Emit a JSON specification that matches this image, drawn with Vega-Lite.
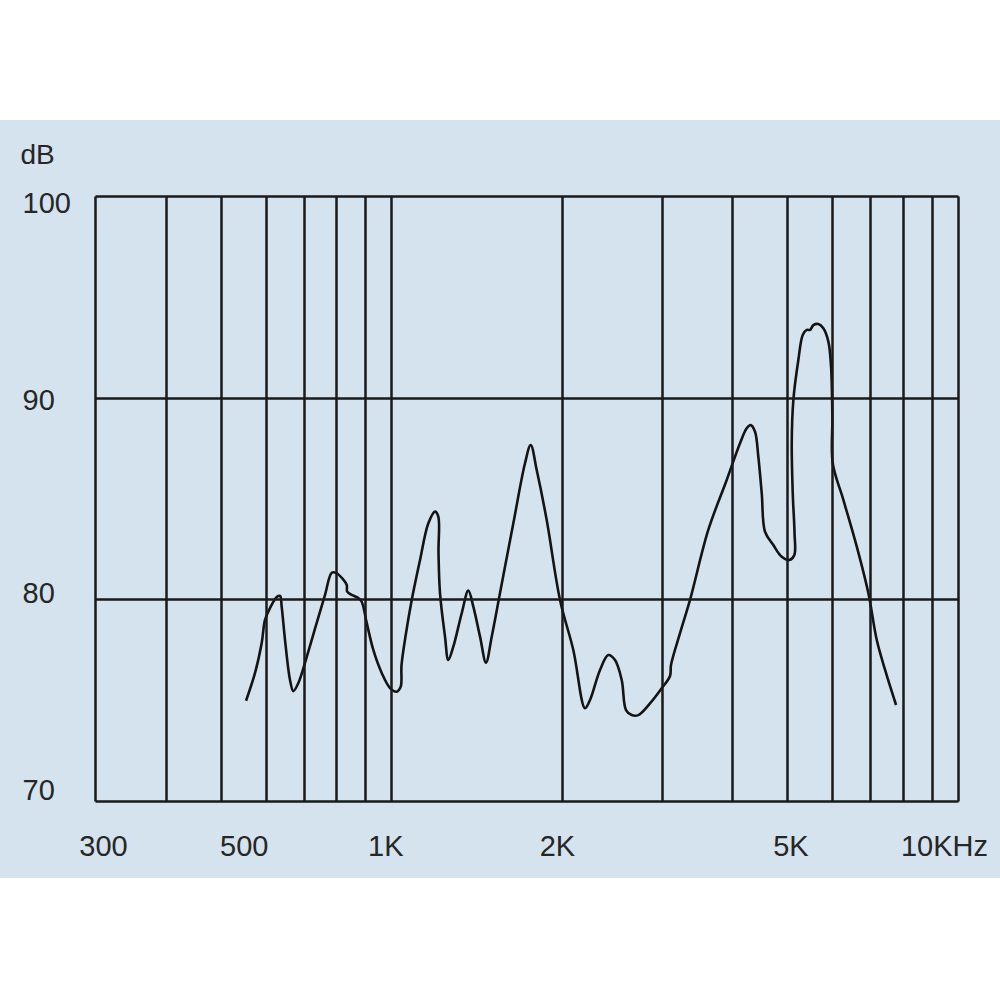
{
  "$schema": "https://vega.github.io/schema/vega-lite/v6.json",
  "width": 863,
  "height": 605,
  "autosize": {"type": "none"},
  "padding": {"left": 95, "top": 196, "right": 42, "bottom": 199},
  "background": "#ffffff",
  "config": {"view": {"stroke": null}},
  "layer": [
    {
      "data": {"values": [{}]},
      "mark": {"type": "rect", "color": "#d5e3ef", "clip": false},
      "encoding": {
        "x": {"datum": 150, "type": "quantitative", "scale": {"type": "log", "domain": [300, 10000], "nice": false}},
        "x2": {"datum": 15000},
        "y": {"datum": 103.77, "type": "quantitative", "scale": {"domain": [70, 100], "nice": false, "zero": false}},
        "y2": {"datum": 66.18}
      }
    },
    {
      "data": {"values": [
        {"i":1,"f":554.2,"db":74.97},{"i":2,"f":574.8,"db":76.35},{"i":3,"f":590.6,"db":77.84},{"i":4,"f":598.6,"db":78.98},
        {"i":5,"f":610.9,"db":79.57},{"i":6,"f":627.8,"db":80.12},{"i":7,"f":636.2,"db":80.17},{"i":8,"f":640.6,"db":79.62},
        {"i":9,"f":649.3,"db":77.98},{"i":10,"f":662.6,"db":76.0},{"i":11,"f":671.6,"db":75.45},{"i":12,"f":685.4,"db":75.85},
        {"i":13,"f":709.1,"db":77.14},{"i":14,"f":738.5,"db":78.83},{"i":15,"f":763.9,"db":80.22},{"i":16,"f":785.0,"db":81.32},
        {"i":17,"f":798.8,"db":81.31},{"i":18,"f":820.8,"db":81.01},{"i":19,"f":834.3,"db":80.71},{"i":20,"f":836,"db":80.38},
        {"i":21,"f":851.4,"db":80.22},{"i":22,"f":874.5,"db":80.07},{"i":23,"f":886.7,"db":79.88},{"i":24,"f":904.9,"db":78.83},
        {"i":25,"f":929.5,"db":77.49},{"i":26,"f":961.8,"db":76.35},{"i":27,"f":994.8,"db":75.6},{"i":28,"f":1022.3,"db":75.42},
        {"i":29,"f":1039.0,"db":75.67},{"i":30,"f":1042.4,"db":76.74},{"i":31,"f":1061.7,"db":78.33},{"i":32,"f":1086.5,"db":79.97},
        {"i":33,"f":1123.8,"db":81.95},{"i":34,"f":1162.4,"db":83.77},{"i":35,"f":1194.3,"db":84.35},{"i":36,"f":1210.4,"db":84.1},
        {"i":37,"f":1211.4,"db":82.3},{"i":38,"f":1218.8,"db":80.31},{"i":39,"f":1243.8,"db":78.15},{"i":40,"f":1260.6,"db":76.99},
        {"i":41,"f":1286.5,"db":77.65},{"i":42,"f":1331.2,"db":79.31},{"i":43,"f":1367.4,"db":80.43},{"i":44,"f":1395.5,"db":79.64},
        {"i":45,"f":1434.0,"db":78.15},{"i":46,"f":1469.3,"db":76.86},{"i":47,"f":1503.8,"db":78.15},{"i":48,"f":1555.3,"db":80.31},
        {"i":49,"f":1641.8,"db":83.77},{"i":50,"f":1721.6,"db":86.75},{"i":51,"f":1761.9,"db":87.65},{"i":52,"f":1805.4,"db":86.41},
        {"i":53,"f":1880.3,"db":83.93},{"i":54,"f":1984.7,"db":79.97},{"i":55,"f":2094.9,"db":77.49},{"i":56,"f":2196.9,"db":74.6},
        {"i":57,"f":2242,"db":75.01},{"i":58,"f":2335.1,"db":76.5},{"i":59,"f":2415.1,"db":77.24},{"i":60,"f":2481.8,"db":76.99},
        {"i":61,"f":2550.2,"db":76.0},{"i":62,"f":2595.2,"db":74.51},{"i":63,"f":2655.9,"db":74.26},{"i":64,"f":2728.1,"db":74.26},
        {"i":65,"f":2861,"db":74.84},{"i":66,"f":3000.3,"db":75.59},{"i":67,"f":3103.3,"db":76.2},{"i":68,"f":3115.8,"db":76.74},
        {"i":69,"f":3231.9,"db":78.32},{"i":70,"f":3366,"db":79.97},{"i":71,"f":3625.2,"db":83.44},{"i":72,"f":3907.2,"db":85.92},
        {"i":73,"f":4124.4,"db":87.74},{"i":74,"f":4238,"db":88.48},{"i":75,"f":4307.6,"db":88.64},{"i":76,"f":4383.6,"db":88.31},
        {"i":77,"f":4442.8,"db":87.07},{"i":78,"f":4504.7,"db":85.26},{"i":79,"f":4565.5,"db":83.35},{"i":80,"f":4722,"db":82.69},
        {"i":81,"f":4886,"db":82.11},{"i":82,"f":5039.4,"db":81.95},{"i":83,"f":5142.9,"db":82.2},{"i":84,"f":5147,"db":83.27},
        {"i":85,"f":5109.6,"db":85.26},{"i":86,"f":5088.9,"db":87.74},{"i":87,"f":5122.2,"db":89.88},{"i":88,"f":5227.3,"db":91.87},
        {"i":89,"f":5321.5,"db":93.11},{"i":90,"f":5408.8,"db":93.36},{"i":91,"f":5481.9,"db":93.36},{"i":92,"f":5556,"db":93.6},
        {"i":93,"f":5670,"db":93.65},{"i":94,"f":5786.4,"db":93.44},{"i":95,"f":5905.2,"db":92.78},{"i":96,"f":5970.3,"db":91.54},
        {"i":97,"f":6001.9,"db":89.06},{"i":98,"f":6011.7,"db":86.75},{"i":99,"f":6276.6,"db":84.93},{"i":100,"f":6628.2,"db":82.61},
        {"i":101,"f":6948,"db":80.3},{"i":102,"f":7189.2,"db":77.98},{"i":103,"f":7436,"db":76.5},{"i":104,"f":7775.4,"db":74.76}
      ]},
      "mark": {"type": "line", "color": "#141414", "strokeWidth": 2.6, "interpolate": "catmull-rom"},
      "encoding": {
        "x": {
          "field": "f", "type": "quantitative",
          "scale": {"type": "log", "domain": [300, 10000], "nice": false},
          "axis": {
            "orient": "bottom",
            "values": [300, 400, 500, 600, 700, 800, 900, 1000, 2000, 3000, 4000, 5000, 6000, 7000, 8000, 9000, 10000],
            "grid": true, "gridColor": "#1a1a1a", "gridWidth": 2.5, "gridOpacity": 1,
            "domain": false, "ticks": false, "tickSize": 0,
            "labelExpr": "datum.value == 300 ? '300' : datum.value == 500 ? '500' : datum.value == 1000 ? '1K' : datum.value == 2000 ? '2K' : datum.value == 5000 ? '5K' : datum.value == 10000 ? '10KHz' : ''",
            "labelFont": "Liberation Sans, Arial, sans-serif",
            "labelFontSize": 29, "labelColor": "#262626",
            "labelBaseline": "alphabetic", "labelAlign": "center", "labelPadding": 54,
            "labelOffset": {"condition": [
              {"test": "datum.value == 300", "value": 8},
              {"test": "datum.value == 500", "value": 23},
              {"test": "datum.value == 1000", "value": -6},
              {"test": "datum.value == 2000", "value": -5},
              {"test": "datum.value == 5000", "value": 3}
            ], "value": -14},
            "labelOverlap": false, "labelBound": false, "labelFlush": false,
            "title": null, "zindex": 1
          }
        },
        "y": {
          "field": "db", "type": "quantitative",
          "scale": {"domain": [70, 100], "nice": false, "zero": false},
          "axis": {
            "values": [70, 80, 90, 100],
            "grid": true, "gridColor": "#1a1a1a", "gridWidth": 2.5, "gridOpacity": 1,
            "domain": false, "ticks": false, "tickSize": 0,
            "labelFont": "Liberation Sans, Arial, sans-serif",
            "labelFontSize": 29, "labelColor": "#262626",
            "labelAlign": "left", "labelBaseline": "alphabetic", "labelPadding": 73,
            "labelOffset": {"condition": [
              {"test": "datum.value == 100", "value": 16},
              {"test": "datum.value == 90", "value": 12},
              {"test": "datum.value == 80", "value": 3}
            ], "value": -2},
            "labelOverlap": false, "labelBound": false, "labelFlush": false,
            "title": "dB", "titleAngle": 0, "titleAlign": "left", "titleBaseline": "alphabetic",
            "titleX": -75, "titleY": -33,
            "titleFont": "Liberation Sans, Arial, sans-serif",
            "titleFontSize": 28, "titleFontWeight": "normal", "titleColor": "#262626",
            "zindex": 1
          }
        },
        "order": {"field": "i", "type": "quantitative"}
      }
    }
  ]
}
